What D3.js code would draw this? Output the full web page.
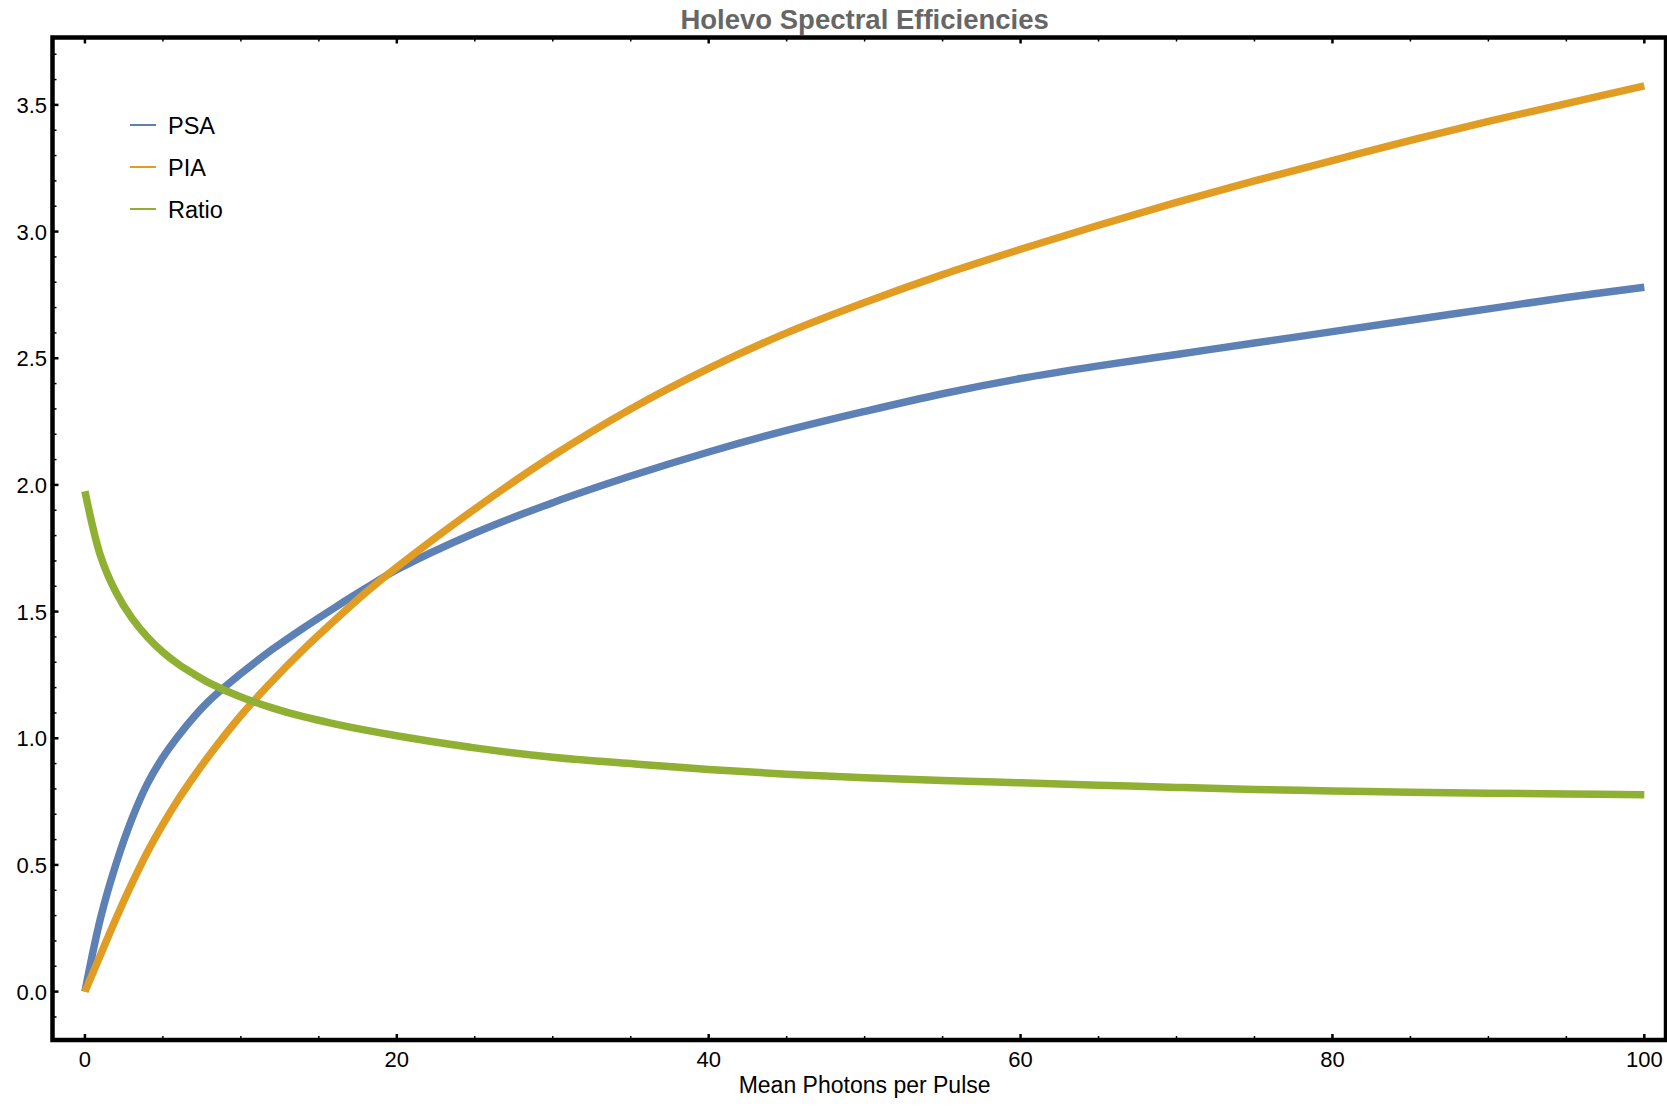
<!DOCTYPE html>
<html>
<head>
<meta charset="utf-8">
<script src="https://cdn.jsdelivr.net/npm/d3@7"></script>
<style>
  html, body { margin: 0; padding: 0; background: #fff; }
  svg { display: block; font-family: "Liberation Sans", Arial, Helvetica, sans-serif; }
</style>
</head>
<body>
<svg id="chart" width="1667" height="1110"></svg>
<script>
// values
const photons = [0, 1, 2, 3, 4, 5, 6, 7, 8, 10, 12, 14, 16, 18, 20, 25, 30, 35, 40, 45, 50, 55, 60, 65, 70, 75, 80, 85, 90, 95, 100];
const psa   = [0, 0.29, 0.505, 0.68, 0.82, 0.925, 1.01, 1.085, 1.15, 1.255, 1.35, 1.435, 1.515, 1.592, 1.665, 1.81, 1.93, 2.035, 2.13, 2.215, 2.29, 2.36, 2.42, 2.47, 2.515, 2.56, 2.605, 2.65, 2.695, 2.74, 2.78];
const pia   = [0, 0.145, 0.29, 0.425, 0.55, 0.66, 0.76, 0.85, 0.935, 1.09, 1.225, 1.35, 1.465, 1.575, 1.675, 1.905, 2.115, 2.30, 2.46, 2.60, 2.72, 2.83, 2.93, 3.025, 3.115, 3.20, 3.28, 3.36, 3.435, 3.505, 3.575];
const ratio = [1.975, 1.72, 1.575, 1.475, 1.40, 1.34, 1.292, 1.253, 1.218, 1.163, 1.12, 1.085, 1.057, 1.032, 1.01, 0.962, 0.925, 0.90, 0.877, 0.858, 0.844, 0.833, 0.824, 0.815, 0.806, 0.798, 0.792, 0.787, 0.783, 0.78, 0.777];
const seriesNames = ["PSA", "PIA", "Ratio"];
const xTicks = [0, 20, 40, 60, 80, 100];
const yTicks = [0, 0.5, 1, 1.5, 2, 2.5, 3, 3.5];

const colors = {
    "PSA": "#5E81B5",
    "PIA": "#E19C24",
    "Ratio": "#8FB032"
};

const svg = d3.select("#chart");

const frame = {left: 52.5, right: 1666, top: 37.5, bottom: 1040};

const x = d3.scaleLinear().domain([-2.08, 101.39]).range([frame.left, frame.right]);
const y = d3.scaleLinear().domain([-0.191, 3.766]).range([frame.bottom, frame.top]);

const series = [
    {name: "PSA", values: psa},
    {name: "PIA", values: pia},
    {name: "Ratio", values: ratio}
];

// curves
const line = d3.line()
    .x((d, i) => x(photons[i]))
    .y(d => y(d))
    .curve(d3.curveCatmullRom.alpha(0.5));

svg.append("g")
    .selectAll("path")
    .data(series)
    .enter()
    .append("path")
    .attr("d", d => line(d.values))
    .attr("fill", "none")
    .attr("stroke", d => colors[d.name])
    .attr("stroke-width", 7.5);

// frame with inward ticks (mathematica style)
const axisG = svg.append("g");

const xMinor = d3.range(0, 101, 5).filter(v => v % 20 !== 0);
const yMinor = d3.range(-0.1, 3.75, 0.1).map(v => Math.round(v * 10) / 10).filter(v => Math.round(v * 10) % 5 !== 0);

// bottom + top ticks
[frame.bottom, frame.top].forEach((fy, k) => {
    const dir = k === 0 ? -1 : 1;
    axisG.selectAll(null).data(xTicks).enter().append("line")
        .attr("x1", d => x(d)).attr("x2", d => x(d))
        .attr("y1", fy).attr("y2", fy + dir * 6)
        .attr("stroke", "#000").attr("stroke-width", 2.5);
    axisG.selectAll(null).data(xMinor).enter().append("line")
        .attr("x1", d => x(d)).attr("x2", d => x(d))
        .attr("y1", fy).attr("y2", fy + dir * 4)
        .attr("stroke", "#000").attr("stroke-width", 1.5);
});

// left ticks
axisG.selectAll(null).data(yTicks).enter().append("line")
    .attr("x1", frame.left).attr("x2", frame.left + 6)
    .attr("y1", d => y(d)).attr("y2", d => y(d))
    .attr("stroke", "#000").attr("stroke-width", 2.5);
axisG.selectAll(null).data(yMinor).enter().append("line")
    .attr("x1", frame.left).attr("x2", frame.left + 4)
    .attr("y1", d => y(d)).attr("y2", d => y(d))
    .attr("stroke", "#000").attr("stroke-width", 1.5);

axisG.append("rect")
    .attr("x", frame.left).attr("y", frame.top)
    .attr("width", frame.right - frame.left).attr("height", frame.bottom - frame.top)
    .attr("fill", "none").attr("stroke", "#000").attr("stroke-width", 4.5);

// tick labels
axisG.selectAll(null).data(xTicks).enter().append("text")
    .attr("x", d => x(d)).attr("y", 1067)
    .attr("text-anchor", "middle")
    .style("font-size", "22px")
    .text(d => d);

axisG.selectAll(null).data(yTicks).enter().append("text")
    .attr("x", 47).attr("y", d => y(d) + 8)
    .attr("text-anchor", "end")
    .style("font-size", "22px")
    .text(d => d3.format(".1f")(d));

// title + axis label
svg.append("text")
    .attr("x", x(50)).attr("y", 29)
    .attr("text-anchor", "middle")
    .style("font-size", "27.5px").style("font-weight", "bold").style("fill", "#666")
    .text("Holevo Spectral Efficiencies");

svg.append("text")
    .attr("x", x(50)).attr("y", 1093)
    .attr("text-anchor", "middle")
    .style("font-size", "23px")
    .text("Mean Photons per Pulse");

// legend
const legend = svg.append("g").attr("transform", "translate(130,125)");
const rows = legend.selectAll("g").data(seriesNames).enter().append("g")
    .attr("transform", (d, i) => `translate(0,${i * 42})`);
rows.append("line")
    .attr("x1", 0).attr("x2", 26).attr("y1", 0).attr("y2", 0)
    .attr("stroke", d => colors[d]).attr("stroke-width", 2);
rows.append("text")
    .attr("x", 38).attr("y", 8.5)
    .style("font-size", "23.5px")
    .text(d => d);
</script>
</body>
</html>
